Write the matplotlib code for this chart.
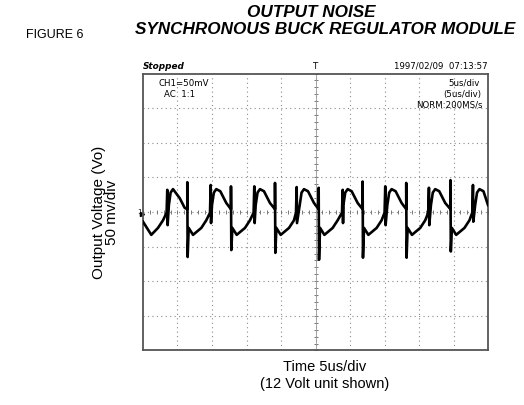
import matplotlib
matplotlib.use('Agg')
import matplotlib.pyplot as plt
import numpy as np

plt.rcParams['font.family'] = ['Liberation Sans', 'DejaVu Sans']

# scope screen: 10 div x 5us, 8 div x 50mV
x_divs = 10
y_divs = 8
us_per_div = 5
mv_per_div = 50

# trace (time in us, voltage in mV)
trace_t = [0.00, 1.20, 2.17, 2.90, 3.42, 3.52, 3.57, 3.75, 4.00, 4.35, 5.32, 6.04,
           6.42, 6.42, 6.47, 6.62, 7.25, 8.45, 9.17, 9.71, 9.81, 9.86, 10.00, 10.27, 10.62, 11.20, 12.07,
           12.75, 12.75, 12.80, 12.95, 13.58, 14.78, 15.50, 16.03, 16.13, 16.18, 16.33, 16.60, 16.95, 17.53, 18.40,
           19.13, 19.13, 19.18, 19.33, 19.96, 21.16, 21.88, 22.17, 22.27, 22.32, 22.71, 22.98, 23.33, 23.91, 24.78,
           25.46, 25.46, 25.51, 25.66, 26.29, 27.49, 28.21, 28.84, 28.94, 28.99, 29.04, 29.31, 29.66, 30.24, 31.11,
           31.83, 31.83, 31.88, 32.03, 32.66, 33.86, 34.58, 35.01, 35.11, 35.16, 35.41, 35.68, 36.03, 36.61, 37.48,
           38.15, 38.15, 38.20, 38.35, 38.98, 40.18, 40.90, 41.34, 41.44, 41.49, 41.73, 42.00, 42.35, 42.93, 43.80,
           44.56, 44.56, 44.61, 44.76, 45.39, 46.59, 47.31, 47.72, 47.82, 47.87, 48.14, 48.41, 48.76, 49.34, 50.00]
trace_mv = [-14, -33, -23, -12, -1, 32, -19, 10, 28, 33, 20, 6,
            4, 43, -65, -23, -33, -23, -12, -1, 39, -16, 10, 28, 33, 30, 13,
            4, 37, -55, -23, -33, -23, -12, -1, 37, -16, 10, 28, 33, 30, 13,
            4, 42, -59, -23, -33, -23, -12, -1, 36, -16, 10, 28, 33, 30, 13,
            4, 35, -69, -23, -33, -23, -12, -1, 32, -16, 10, 28, 33, 30, 13,
            4, 44, -66, -23, -33, -23, -12, -1, 37, -19, 10, 28, 33, 30, 13,
            4, 42, -66, -23, -33, -23, -12, -1, 35, -19, 10, 28, 33, 30, 13,
            4, 46, -57, -23, -33, -23, -12, -1, 39, -14, 10, 28, 33, 30, 10]

fig = plt.figure(figsize=(5.24, 4.05), dpi=100)
ax = fig.add_axes([0.2729, 0.1346, 0.6584, 0.6839])

x_max = x_divs * us_per_div
y_half = y_divs / 2 * mv_per_div
ax.set_xlim(0, x_max)
ax.set_ylim(-y_half, y_half)

grid_kw = dict(color='#8a8a8a', linewidth=0.8, linestyle=(0, (1, 3)), zorder=1)
for gx in np.arange(us_per_div, x_max, us_per_div):
    ax.axvline(gx, **grid_kw)
for gy in np.arange(-y_half + mv_per_div, y_half, mv_per_div):
    ax.axhline(gy, **grid_kw)

# center graticule minor ticks
cx = x_max / 2
xt = np.arange(0, x_max + 0.01, us_per_div / 5)
yt = np.arange(-y_half, y_half + 0.01, mv_per_div / 5)
ax.plot(xt, np.zeros_like(xt), linestyle='none', marker='|', markersize=3,
        color='#777777', markeredgewidth=0.7, zorder=1)
ax.plot(np.full_like(yt, cx), yt, linestyle='none', marker='_', markersize=3,
        color='#777777', markeredgewidth=0.7, zorder=1)
ax.axvline(cx, color='#999999', linewidth=0.6, zorder=1)

ax.plot(trace_t, trace_mv, color='black', linewidth=1.9, solid_joinstyle='round', zorder=3)

ax.set_xticks([])
ax.set_yticks([])
for sp in ax.spines.values():
    sp.set_color('#555555')
    sp.set_linewidth(1.3)

# scope annotations
mono = dict(family='DejaVu Sans', fontsize=6.2, color='black')
ax.text(0.0, 1.01, 'Stopped', transform=ax.transAxes, ha='left', va='bottom',
        fontstyle='italic', fontweight='bold', family='DejaVu Sans', fontsize=6.4)
ax.text(1.0, 1.01, '1997/02/09  07:13:57', transform=ax.transAxes, ha='right', va='bottom', **mono)
ax.text(0.5, 1.01, 'T', transform=ax.transAxes, ha='center', va='bottom', **mono)
ax.text(0.045, 0.9657, 'CH1=50mV', transform=ax.transAxes, ha='left', va='center', **mono)
ax.text(0.06, 0.926, 'AC  1:1', transform=ax.transAxes, ha='left', va='center', **mono)
ax.text(0.975, 0.9657, '5us/div', transform=ax.transAxes, ha='right', va='center', **mono)
ax.text(0.98, 0.926, '(5us/div)', transform=ax.transAxes, ha='right', va='center', **mono)
ax.text(0.985, 0.886, 'NORM:200MS/s', transform=ax.transAxes, ha='right', va='center', **mono)
ax.text(-0.005, 0.5, '1', transform=ax.transAxes, ha='right', va='center',
        family='DejaVu Sans', fontsize=5)
ax.plot([-0.004], [0.492], transform=ax.transAxes, marker='>', markersize=3,
        color='black', clip_on=False)

# labels
ax.set_ylabel('Output Voltage (Vo)\n50 mv/div', fontsize=11, labelpad=17, linespacing=0.95)
fig.text(0.62, 0.073, 'Time 5us/div\n(12 Volt unit shown)', ha='center', va='center',
         fontsize=10.5, linespacing=1.3)

fig.text(0.594, 0.968, 'OUTPUT NOISE', ha='center', va='center', fontsize=12.3,
         fontweight='bold', fontstyle='italic')
fig.text(0.620, 0.928, 'SYNCHRONOUS BUCK REGULATOR MODULE', ha='center', va='center',
         fontsize=12.3, fontweight='bold', fontstyle='italic')
fig.text(0.104, 0.914, 'FIGURE 6', ha='center', va='center', fontsize=9)

plt.savefig('out.png', dpi=100, facecolor='white')
plt.close()
